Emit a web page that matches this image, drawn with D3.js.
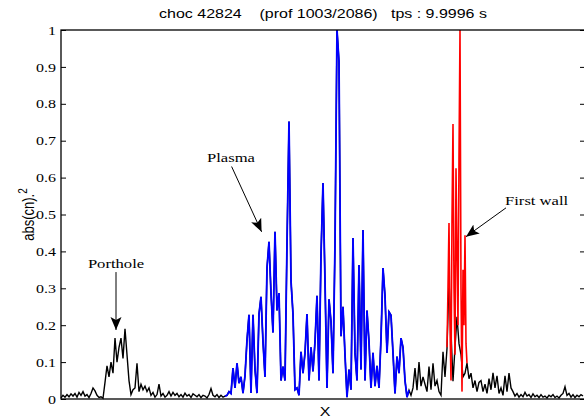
<!DOCTYPE html>
<html>
<head>
<meta charset="utf-8">
<script src="https://cdn.jsdelivr.net/npm/d3@7"></script>
<style>
  body { margin: 0; background: #fff; }
  svg { display: block; }
</style>
</head>
<body>
<div id="chart"></div>
<script>
// one sample every channel, channel index 0..261
const blackLeft = [
  0.003, 0.01, 0.005, 0.012, 0.006, 0.014, 0.008, 0.015, 0.005, 0.018,
  0.01, 0.02, 0.008, 0.012, 0.004, 0.015, 0.03, 0.022, 0.01, 0.004,
  0.006, 0.002, 0.045, 0.09, 0.06, 0.1, 0.07, 0.165, 0.1, 0.14,
  0.165, 0.11, 0.19, 0.12, 0.05, 0.012, 0.025, 0.03, 0.097, 0.02,
  0.04, 0.025, 0.035, 0.02, 0.03, 0.01, 0.018, 0.005, 0.012, 0.04,
  0.008, 0.015, 0.005, 0.01, 0.02, 0.008, 0.018, 0.01, 0.015, 0.006,
  0.012, 0.005, 0.016, 0.008, 0.012, 0.004, 0.014, 0.01, 0.006, 0.012,
  0.004, 0.01, 0.008, 0.003, 0.012, 0.028, 0.01, 0.006, 0.012, 0.004,
  0.01, 0.005, 0.008
];

const bluePlasma = [
  0.01, 0.02, 0.015, 0.084, 0.03, 0.097, 0.043, 0.06, 0.016, 0.063,
  0.16, 0.228, 0.016, 0.228, 0.08, 0.016, 0.23, 0.277, 0.155, 0.06,
  0.355, 0.426, 0.287, 0.18, 0.453, 0.24, 0.287, 0.05, 0.088, 0.05,
  0.42, 0.752, 0.32, 0.23, 0.025, 0.03, 0.01, 0.128, 0.07, 0.125,
  0.23, 0.05, 0.14, 0.075, 0.155, 0.28, 0.05, 0.39, 0.585, 0.32,
  0.03, 0.27, 0.21, 0.07, 0.42, 1.0, 0.914, 0.17, 0.25, 0.12,
  0.005, 0.08, 0.025, 0.436, 0.125, 0.05, 0.363, 0.08, 0.458, 0.05,
  0.24, 0.155, 0.03, 0.125, 0.035, 0.09, 0.03, 0.165, 0.355, 0.28,
  0.125, 0.236, 0.227, 0.125, 0.015, 0.115, 0.07, 0.165, 0.14, 0.05,
  0.005
];

const blackRight = [
  0.024, 0.01, 0.03, 0.084, 0.024, 0.1, 0.035, 0.06, 0.04, 0.02,
  0.088, 0.025, 0.097, 0.035, 0.05, 0.02, 0.01, 0.128, 0.06, 0.137,
  0.323, 0.182, 0.048, 0.14, 0.223, 0.15, 0.12, 0.06, 0.07, 0.097,
  0.055, 0.07, 0.03, 0.05, 0.02, 0.045, 0.05, 0.02, 0.04, 0.015,
  0.055, 0.025, 0.071, 0.03, 0.063, 0.015, 0.03, 0.01, 0.063, 0.02,
  0.07, 0.03, 0.02, 0.008, 0.015, 0.005, 0.012, 0.006, 0.018, 0.008,
  0.012, 0.004, 0.014, 0.006, 0.01, 0.004, 0.012, 0.005, 0.008, 0.003,
  0.01, 0.006, 0.012, 0.004, 0.008, 0.003, 0.01, 0.015, 0.033, 0.01,
  0.015, 0.005, 0.012, 0.004, 0.01, 0.006, 0.012, 0.008
];

// first wall samples, half a channel apart
const redStart = 193;
const redStep = 0.5;
const redWall = [
  0.14, 0.3, 0.477, 0.2, 0.05, 0.49, 0.745, 0.3, 0.12, 0.625,
  0.4, 0.2, 0.657, 1.0, 0.3, 0.02, 0.35, 0.2, 0.444, 0.15, 0.097
];

const yTicks = [0, 0.1, 0.2, 0.3, 0.4, 0.5, 0.6, 0.7, 0.8, 0.9, 1];

const notes = [
  { label: "Porthole", tx: 27.5, ty: 0.355, x1: 27.5, y1: 0.344, x2: 27.5, y2: 0.187 },
  { label: "Plasma", tx: 85, ty: 0.642, x1: 85.3, y1: 0.63, x2: 100.3, y2: 0.453 },
  { label: "First wall", tx: 237.8, ty: 0.526, x1: 222.5, y1: 0.518, x2: 202.5, y2: 0.44 }
];

const titleText = "choc 42824    (prof 1003/2086)   tps : 9.9996 s";

const W = 584, H = 420;
const margin = { top: 30, right: -1, bottom: 21, left: 61 };
const stretch = 1.23;

const blueStart = blackLeft.length;
const rightStart = blueStart + bluePlasma.length;
const signal = blackLeft.concat(bluePlasma, blackRight);

const svg = d3.select("#chart").append("svg")
  .attr("width", W)
  .attr("height", H);

const x = d3.scaleLinear()
  .domain([0, 262])
  .range([margin.left, W - margin.right]);

const y = d3.scaleLinear()
  .domain([0, 1])
  .range([H - margin.bottom, margin.top]);

// axes (MATLAB style ticks pointing inward)
const yAxis = d3.axisLeft(y)
  .tickValues(yTicks)
  .tickFormat((d) => String(d))
  .tickSize(-5)
  .tickSizeOuter(0)
  .tickPadding(4);

const gy = svg.append("g")
  .attr("transform", `translate(${margin.left},0)`)
  .call(yAxis);
gy.select(".domain").remove();
gy.selectAll("text")
  .attr("transform", `scale(${stretch},1)`)
  .style("font-family", "'Liberation Serif', serif")
  .style("font-size", "13px")
  .attr("fill", "#000");

const gyr = svg.append("g")
  .attr("transform", `translate(${W - margin.right},0)`)
  .call(d3.axisRight(y).tickValues(yTicks).tickFormat("").tickSize(-5).tickSizeOuter(0));
gyr.select(".domain").remove();

// data lines
const line = d3.line()
  .x((d) => x(d.i))
  .y((d) => y(d.v));

const pts = signal.map((v, i) => ({ i, v }));

svg.append("path")
  .datum(pts)
  .attr("fill", "none")
  .attr("stroke", "#000")
  .attr("stroke-width", 1.4)
  .attr("d", line);

svg.append("path")
  .datum(pts.slice(blueStart - 1, rightStart + 1))
  .attr("fill", "none")
  .attr("stroke", "#0000ff")
  .attr("stroke-width", 1.8)
  .attr("d", line);

svg.append("path")
  .datum(redWall.map((v, k) => ({ i: redStart + k * redStep, v })))
  .attr("fill", "none")
  .attr("stroke", "#ff0000")
  .attr("stroke-width", 1.6)
  .attr("d", line);

// frame
svg.append("rect")
  .attr("x", x(0))
  .attr("y", y(1))
  .attr("width", x(262) - x(0))
  .attr("height", y(0) - y(1))
  .attr("fill", "none")
  .attr("stroke", "#000")
  .attr("stroke-width", 1.3);

// title and labels
svg.append("text")
  .attr("transform", `translate(${(x(0) + x(262)) / 2},18) scale(${stretch},1)`)
  .attr("text-anchor", "middle")
  .style("font-family", "'Liberation Sans', Arial, sans-serif")
  .style("font-size", "13px")
  .style("white-space", "pre")
  .attr("xml:space", "preserve")
  .text(titleText);

svg.append("text")
  .attr("transform", `translate(325,416) scale(${stretch},1)`)
  .attr("text-anchor", "middle")
  .style("font-family", "'Liberation Sans', Arial, sans-serif")
  .style("font-size", "13px")
  .text("X");

const ylab = svg.append("text")
  .attr("transform", `translate(34,${(y(0) + y(1)) / 2}) scale(${stretch},1) rotate(-90)`)
  .attr("text-anchor", "middle")
  .style("font-family", "'Liberation Sans', Arial, sans-serif")
  .style("font-size", "13px");
ylab.append("tspan").text("abs(cn).");
ylab.append("tspan").attr("dy", -6).style("font-size", "10px").text("2");

// annotations
svg.append("defs").append("marker")
  .attr("id", "head")
  .attr("markerUnits", "userSpaceOnUse")
  .attr("viewBox", "0 -6 13 12")
  .attr("refX", 13)
  .attr("refY", 0)
  .attr("markerWidth", 13)
  .attr("markerHeight", 12)
  .attr("orient", "auto")
  .append("path")
  .attr("d", "M0,-5.5L13,0L0,5.5L3,0Z")
  .attr("fill", "#000");

notes.forEach((n) => {
  svg.append("line")
    .attr("x1", x(n.x1))
    .attr("y1", y(n.y1))
    .attr("x2", x(n.x2))
    .attr("y2", y(n.y2))
    .attr("stroke", "#000")
    .attr("stroke-width", 1)
    .attr("marker-end", "url(#head)");

  svg.append("text")
    .attr("transform", `translate(${x(n.tx)},${y(n.ty)}) scale(${stretch},1)`)
    .attr("text-anchor", "middle")
    .style("font-family", "'Liberation Serif', serif")
    .style("font-size", "13.5px")
    .text(n.label);
});
</script>
</body>
</html>
